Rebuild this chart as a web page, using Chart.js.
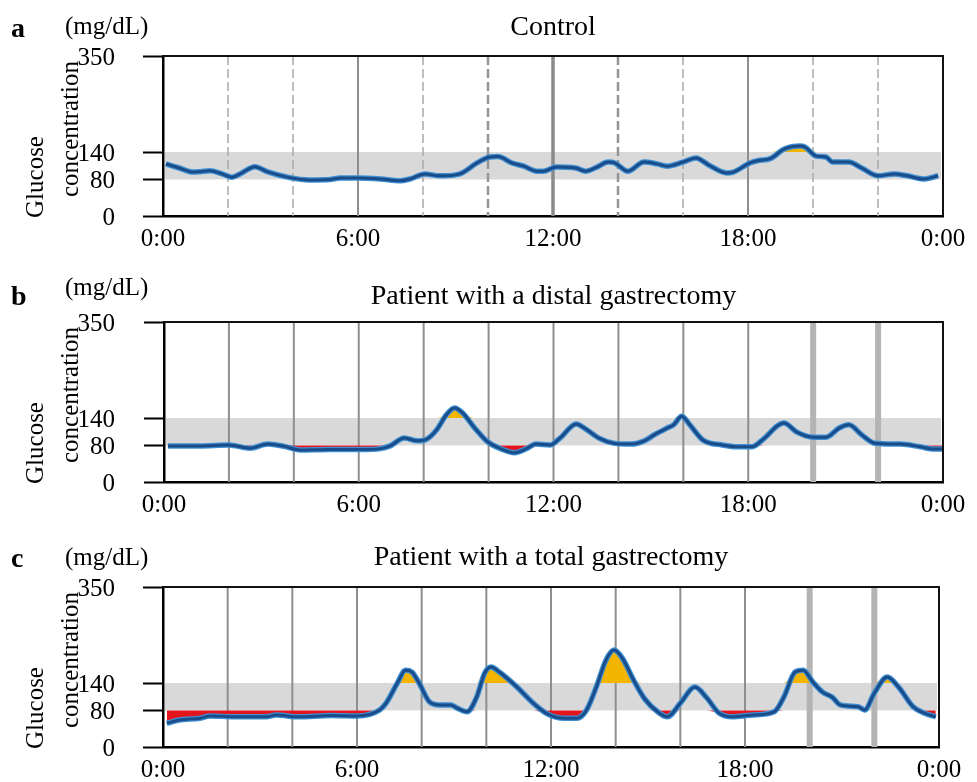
<!DOCTYPE html>
<html>
<head>
<meta charset="utf-8">
<script src="https://cdn.jsdelivr.net/npm/chart.js@4.4.0/dist/chart.umd.min.js"></script>
<style>
  html, body { margin: 0; padding: 0; background: #fff; }
  #wrap { position: relative; width: 977px; height: 782px; }
  canvas { position: absolute; left: 0; }
</style>
</head>
<body>
<div id="wrap">
  <canvas id="chartA" width="977" height="266" style="top:0"></canvas>
  <canvas id="chartB" width="977" height="266" style="top:266px"></canvas>
  <canvas id="chartC" width="977" height="251" style="top:531px"></canvas>
</div>
<script>
// axis ticks
const yTickValues = [0, 80, 140, 350];
const xTickHours = [0, 6, 12, 18, 24];
const xTickLabels = ["0:00", "6:00", "12:00", "18:00", "0:00"];
const targetLow = 80;
const targetHigh = 140;
const gridHours = [2, 4, 6, 8, 10, 12, 14, 16, 18, 20, 22];

// a: control
const hoursA = [0.09, 0.5, 0.92, 1.14, 1.45, 1.75, 2.12, 2.37, 2.83, 3.2, 3.9, 4.5, 5.14, 5.45, 6.0, 6.68, 7.3, 7.6,
  8.06, 8.5, 9.0, 9.2, 9.66, 10.06, 10.3, 10.74, 11.1, 11.5, 11.7, 12.1, 12.7, 13.0, 13.35, 13.7, 13.9, 14.3,
  14.8, 15.2, 15.5, 16.0, 16.4, 16.8, 17.35, 17.55, 18.06, 18.3, 18.7, 19.1, 19.6, 19.75, 20.1, 20.4, 20.6,
  21.1, 21.5, 22.0, 22.5, 22.9, 23.4, 23.85];
const glucoseA = [114, 105, 96, 97, 99, 94, 85, 92, 108, 97, 84, 79, 80, 83, 83, 81, 77, 81,
  92, 88, 90, 94, 116, 129, 130, 116, 109, 98, 98, 107, 105, 98, 107, 118, 116, 98,
  118, 114, 109, 118, 127, 111, 94, 96, 116, 121, 126, 146, 153, 151, 131, 129, 118,
  118, 105, 88, 92, 88, 81, 88];

// b: distal gastrectomy
const hoursB = [0.12, 1.1, 2.0, 2.65, 3.2, 3.7, 4.2, 5.1, 6.05, 6.67, 6.97, 7.4, 7.8, 8.1, 8.4, 8.7, 8.95, 9.2,
  9.55, 9.97, 10.4, 10.8, 11.2, 11.45, 11.9, 12.2, 12.7, 12.95, 13.4, 13.85, 14.4, 14.8, 15.1, 15.5, 15.7,
  15.95, 16.2, 16.6, 17.2, 17.7, 18.1, 18.5, 18.9, 19.1, 19.5, 20.0, 20.4, 20.8, 21.1, 21.5, 21.9, 22.7,
  23.3, 23.7, 24.0];
const glucoseB = [79, 79, 81, 74, 83, 78, 70, 71, 71, 73, 79, 96, 90, 94, 114, 147, 162, 151,
  120, 88, 72, 64, 74, 83, 81, 96, 127, 118, 96, 85, 83, 90, 103, 118, 125,
  144, 125, 92, 81, 77, 77, 96, 123, 129, 109, 98, 98, 118, 125, 103, 85, 83,
  77, 72, 72];

// c: total gastrectomy
const hoursC = [0.12, 0.5, 1.15, 1.45, 2.2, 3.2, 3.5, 4.2, 5.2, 6.0, 6.7, 6.9, 7.25, 7.5, 7.7, 7.95, 8.25, 8.55,
  8.9, 9.1, 9.4, 9.7, 9.95, 10.15, 10.4, 10.95, 11.45, 11.9, 12.4, 12.8, 13.1, 13.4, 13.7, 13.95, 14.2,
  14.55, 14.9, 15.3, 15.6, 16.0, 16.45, 16.8, 17.2, 17.6, 18.25, 18.9, 19.2, 19.55, 19.8, 20.1, 20.4,
  20.7, 20.95, 21.5, 21.7, 22.0, 22.4, 22.75, 23.2, 23.55, 23.9];
const glucoseC = [52, 59, 63, 68, 66, 66, 70, 66, 69, 68, 81, 96, 140, 168, 164, 136, 98, 92,
  92, 85, 77, 109, 162, 175, 164, 131, 96, 72, 63, 63, 81, 131, 190, 212, 195,
  147, 105, 77, 66, 96, 131, 109, 74, 66, 70, 77, 109, 164, 168, 142, 120,
  109, 92, 88, 81, 118, 153, 131, 88, 74, 66];

const serif = "'Liberation Serif', 'Times New Roman', serif";
const lineStyles = {
  dash: { color: "#a9a9a9", width: 1.5, dash: [9, 4] },
  dashBold: { color: "#959595", width: 2.5, dash: [9, 4] },
  solid: { color: "#8e8e8e", width: 2, dash: [] },
  solidBold: { color: "#8a8a8a", width: 3.5, dash: [] },
  thick: { color: "#b4b4b4", width: 6, dash: [] },
};
const gridA = ["dash", "dash", "solid", "dash", "dashBold", "solidBold", "dashBold", "dash", "solid", "dash", "dash"];
const gridB = ["solid", "solid", "solid", "solid", "solid", "solid", "solid", "solid", "solid", "thick", "thick"];
const gridC = ["solid", "solid", "solid", "solid", "solid", "solid", "solid", "solid", "solid", "thick", "thick"];

function makeDecor(p) {
  return {
    id: "decor",
    beforeDatasetsDraw(chart) {
      const { ctx, chartArea: a, scales: { x, y } } = chart;
      ctx.save();
      const yHi = y.getPixelForValue(targetHigh);
      const yLo = y.getPixelForValue(targetLow);
      ctx.fillStyle = "#d9d9d9";
      ctx.fillRect(a.left + 2, yHi, a.right - a.left - 4, yLo - yHi);
      gridHours.forEach((h, i) => {
        const s = lineStyles[p.grid[i]];
        const px = x.getPixelForValue(h);
        ctx.beginPath();
        ctx.strokeStyle = s.color;
        ctx.lineWidth = s.width;
        ctx.setLineDash(s.dash);
        ctx.moveTo(px, a.top);
        ctx.lineTo(px, a.bottom);
        ctx.stroke();
      });
      ctx.restore();
    },
    afterDraw(chart) {
      const { ctx, chartArea: a, scales: { y } } = chart;
      ctx.save();
      ctx.strokeStyle = "#111";
      ctx.lineWidth = 2;
      ctx.beginPath();
      ctx.moveTo(a.left, a.top);
      ctx.lineTo(a.right, a.top);
      ctx.lineTo(a.right, a.bottom);
      ctx.stroke();

      ctx.fillStyle = "#000";
      ctx.font = "25px " + serif;
      // y tick labels
      ctx.textAlign = "right";
      ctx.textBaseline = "middle";
      yTickValues.forEach((v) => ctx.fillText(String(v), 115, y.getPixelForValue(v) + 2));

      ctx.textBaseline = "alphabetic";
      ctx.textAlign = "left";
      ctx.fillText("(mg/dL)", 65, p.mgY);
      ctx.font = "28px " + serif;
      ctx.textAlign = "center";
      ctx.fillText(p.title, (a.left + a.right) / 2, p.titleY);
      ctx.font = "bold 28px " + serif;
      ctx.textAlign = "left";
      ctx.fillText(p.letter, 11, p.letterY);

      ctx.font = "25px " + serif;
      ctx.textAlign = "center";
      ctx.save();
      ctx.translate(43, 177);
      ctx.rotate(-Math.PI / 2);
      ctx.fillText("Glucose", 0, 0);
      ctx.restore();
      ctx.save();
      ctx.translate(78, 129);
      ctx.rotate(-Math.PI / 2);
      ctx.fillText("concentration", 0, 0);
      ctx.restore();
      ctx.restore();
    },
  };
}

function buildChart(p) {
  const toPoints = (vals) => p.hours.map((h, i) => ({ x: h, y: vals[i] }));
  const points = toPoints(p.values);
  const lowPart = toPoints(p.values.map((v) => Math.min(v, targetLow)));
  const highPart = toPoints(p.values.map((v) => Math.max(v, targetHigh)));
  const canvas = document.getElementById(p.id);
  const common = { pointRadius: 0, cubicInterpolationMode: "monotone" };
  new Chart(canvas, {
    type: "line",
    data: {
      datasets: [
        { ...common, data: points, borderColor: "#1a4c8a", borderWidth: 3, fill: false },
        { ...common, data: points, borderColor: "#3f8fd2", borderWidth: 5.5, fill: false },
        { ...common, data: lowPart, borderWidth: 0, borderColor: "rgba(0,0,0,0)", fill: { value: targetLow }, backgroundColor: "#e3141c" },
        { ...common, data: highPart, borderWidth: 0, borderColor: "rgba(0,0,0,0)", fill: { value: targetHigh }, backgroundColor: "#f3b500" },
      ],
    },
    options: {
      responsive: false,
      animation: false,
      layout: { padding: { top: 56, right: p.right, bottom: 0, left: 0 } },
      plugins: { legend: { display: false }, tooltip: { enabled: false } },
      scales: {
        x: {
          type: "linear",
          min: 0,
          max: 24,
          afterBuildTicks: (s) => { s.ticks = xTickHours.map((v) => ({ value: v })); },
          afterFit: (s) => { s.height = canvas.height - 216; },
          ticks: {
            autoSkip: false,
            maxRotation: 0,
            padding: 8,
            color: "#000",
            font: { family: serif, size: 25 },
            callback: (v, i) => xTickLabels[i],
          },
          grid: { display: false, drawTicks: false },
          border: { display: true, color: "#000", width: 2.5 },
        },
        y: {
          min: 0,
          max: 350,
          afterBuildTicks: (s) => { s.ticks = yTickValues.map((v) => ({ value: v })); },
          afterFit: (s) => { s.width = p.left; },
          ticks: { display: false },
          grid: { drawOnChartArea: false, drawTicks: true, tickLength: 20, tickColor: "#000", tickWidth: 2 },
          border: { display: true, color: "#000", width: 2.5 },
        },
      },
    },
    plugins: [makeDecor(p)],
  });
}

buildChart({ id: "chartA", letter: "a", title: "Control", hours: hoursA, values: glucoseA, grid: gridA,
  left: 163, right: 34, letterY: 37, mgY: 34, titleY: 35 });
buildChart({ id: "chartB", letter: "b", title: "Patient with a distal gastrectomy", hours: hoursB, values: glucoseB, grid: gridB,
  left: 164, right: 34, letterY: 39, mgY: 29, titleY: 38 });
buildChart({ id: "chartC", letter: "c", title: "Patient with a total gastrectomy", hours: hoursC, values: glucoseC, grid: gridC,
  left: 163, right: 38, letterY: 36, mgY: 34, titleY: 34 });
</script>
</body>
</html>
